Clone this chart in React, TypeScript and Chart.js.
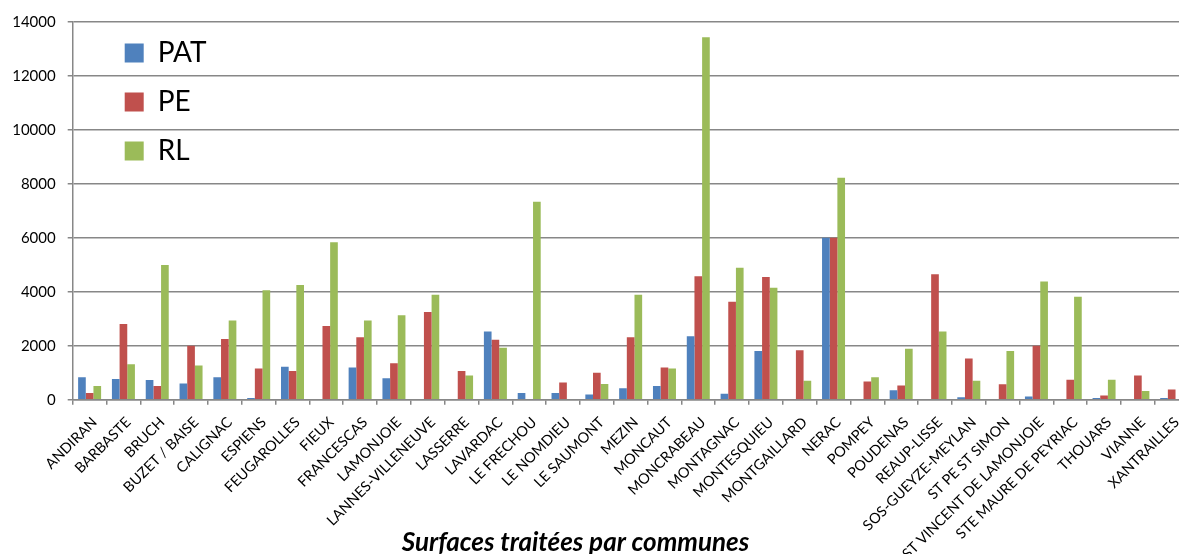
import React, { useEffect, useRef } from "react";
import { Chart, registerables } from "chart.js";

Chart.register(...registerables);

const categories = [
  "ANDIRAN", "BARBASTE", "BRUCH", "BUZET / BAISE", "CALIGNAC", "ESPIENS",
  "FEUGAROLLES", "FIEUX", "FRANCESCAS", "LAMONJOIE", "LANNES-VILLENEUVE",
  "LASSERRE", "LAVARDAC", "LE FRECHOU", "LE NOMDIEU", "LE SAUMONT", "MEZIN",
  "MONCAUT", "MONCRABEAU", "MONTAGNAC", "MONTESQUIEU", "MONTGAILLARD", "NERAC",
  "POMPEY", "POUDENAS", "REAUP-LISSE", "SOS-GUEYZE-MEYLAN", "ST PE ST SIMON",
  "ST VINCENT DE LAMONJOIE", "STE MAURE DE PEYRIAC", "THOUARS", "VIANNE", "XANTRAILLES",
];

const patValues = [
  830, 770, 730, 600, 830, 60, 1220, 0, 1190, 790, 0,
  0, 2530, 250, 250, 190, 420, 510, 2350, 220, 1800, 0,
  6000, 0, 350, 0, 90, 0, 120, 0, 60, 0, 60,
];

const peValues = [
  250, 2800, 510, 2000, 2250, 1160, 1060, 2730, 2310, 1350, 3250,
  1060, 2220, 0, 640, 1000, 2310, 1190, 4570, 3630, 4540, 1830,
  6000, 670, 530, 4650, 1530, 570, 2000, 740, 160, 900, 380,
];

// last RL value is cropped off in the reference picture
const rlValues = [
  510, 1310, 4990, 1270, 2930, 4050, 4250, 5830, 2930, 3130, 3890,
  900, 1920, 7330, 0, 580, 3890, 1160, 13420, 4890, 4150, 700,
  8220, 830, 1890, 2530, 700, 1800, 4380, 3810, 740, 320, null,
];

const seriesNames = ["PAT", "PE", "RL"];
const seriesColors = ["#4F81BD", "#C0504D", "#9BBB59"];
const yMax = 14000;
const yStep = 2000;
const titleText = "Surfaces traitées par communes";

const FONT = "Lato, 'Open Sans', sans-serif";
const GRID = "#878787";

const boxShift = {
  id: "boxShift",
  afterLayout(chart: any) {
    const lg = chart.legend;
    if (lg) {
      lg.left += 31;
      lg.right += 31;
      lg.top += 18;
      lg.bottom += 18;
    }
    const t = chart.titleBlock;
    if (t) {
      t.left -= 21;
      t.right -= 21;
      t.top -= 27.3;
      t.bottom -= 27.3;
    }
  },
};

export default function App() {
  const ref = useRef<HTMLCanvasElement | null>(null);

  useEffect(() => {
    document.body.style.margin = "0";
    const canvas = ref.current;
    if (!canvas) return;
    const values = [patValues, peValues, rlValues];
    const chart = new Chart(canvas, {
      type: "bar",
      data: {
        labels: categories,
        datasets: seriesNames.map((name, i) => ({
          label: name,
          data: values[i],
          backgroundColor: seriesColors[i],
          borderWidth: 0,
          categoryPercentage: 0.68,
          barPercentage: 1,
        })),
      },
      options: {
        responsive: false,
        animation: false,
        devicePixelRatio: 1,
        layout: { padding: { top: 21.7, left: 0, right: 0, bottom: 14.1 } },
        plugins: {
          legend: {
            position: "chartArea",
            align: "start",
            labels: {
              boxWidth: 19,
              boxHeight: 19,
              padding: 21,
              color: "#000",
              font: { family: FONT, size: 28 },
            },
          },
          title: {
            display: true,
            text: titleText,
            position: "bottom",
            color: "#000",
            padding: { top: 0, bottom: 0 },
            font: { family: FONT, size: 26, weight: "bold", style: "italic" },
          },
          tooltip: { enabled: false },
        },
        scales: {
          x: {
            offset: true,
            grid: {
              offset: true,
              drawOnChartArea: false,
              drawTicks: true,
              tickLength: 5,
              color: GRID,
              lineWidth: 1.5,
            },
            border: { color: GRID, width: 1.5 },
            ticks: {
              autoSkip: false,
              minRotation: 45,
              maxRotation: 45,
              padding: 9,
              labelOffset: 5,
              color: "#000",
              font: { family: FONT, size: 14.5 },
            },
            afterFit: (scale: any) => {
              scale.height = 155;
            },
          },
          y: {
            min: 0,
            max: yMax,
            ticks: {
              stepSize: yStep,
              padding: 12,
              color: "#000",
              font: { family: FONT, size: 15 },
              callback: (v: any) => String(v),
            },
            grid: {
              color: GRID,
              lineWidth: 1.5,
              drawTicks: true,
              tickLength: 5,
            },
            border: { color: GRID, width: 1.5 },
            afterFit: (scale: any) => {
              scale.width = 72.7;
            },
          },
        },
      },
      plugins: [boxShift],
    });
    return () => chart.destroy();
  }, []);

  return (
    <div style={{ width: 1179, height: 554, overflow: "hidden", position: "relative", background: "#fff" }}>
      <canvas ref={ref} width={1193} height={600} style={{ display: "block" }} />
    </div>
  );
}
